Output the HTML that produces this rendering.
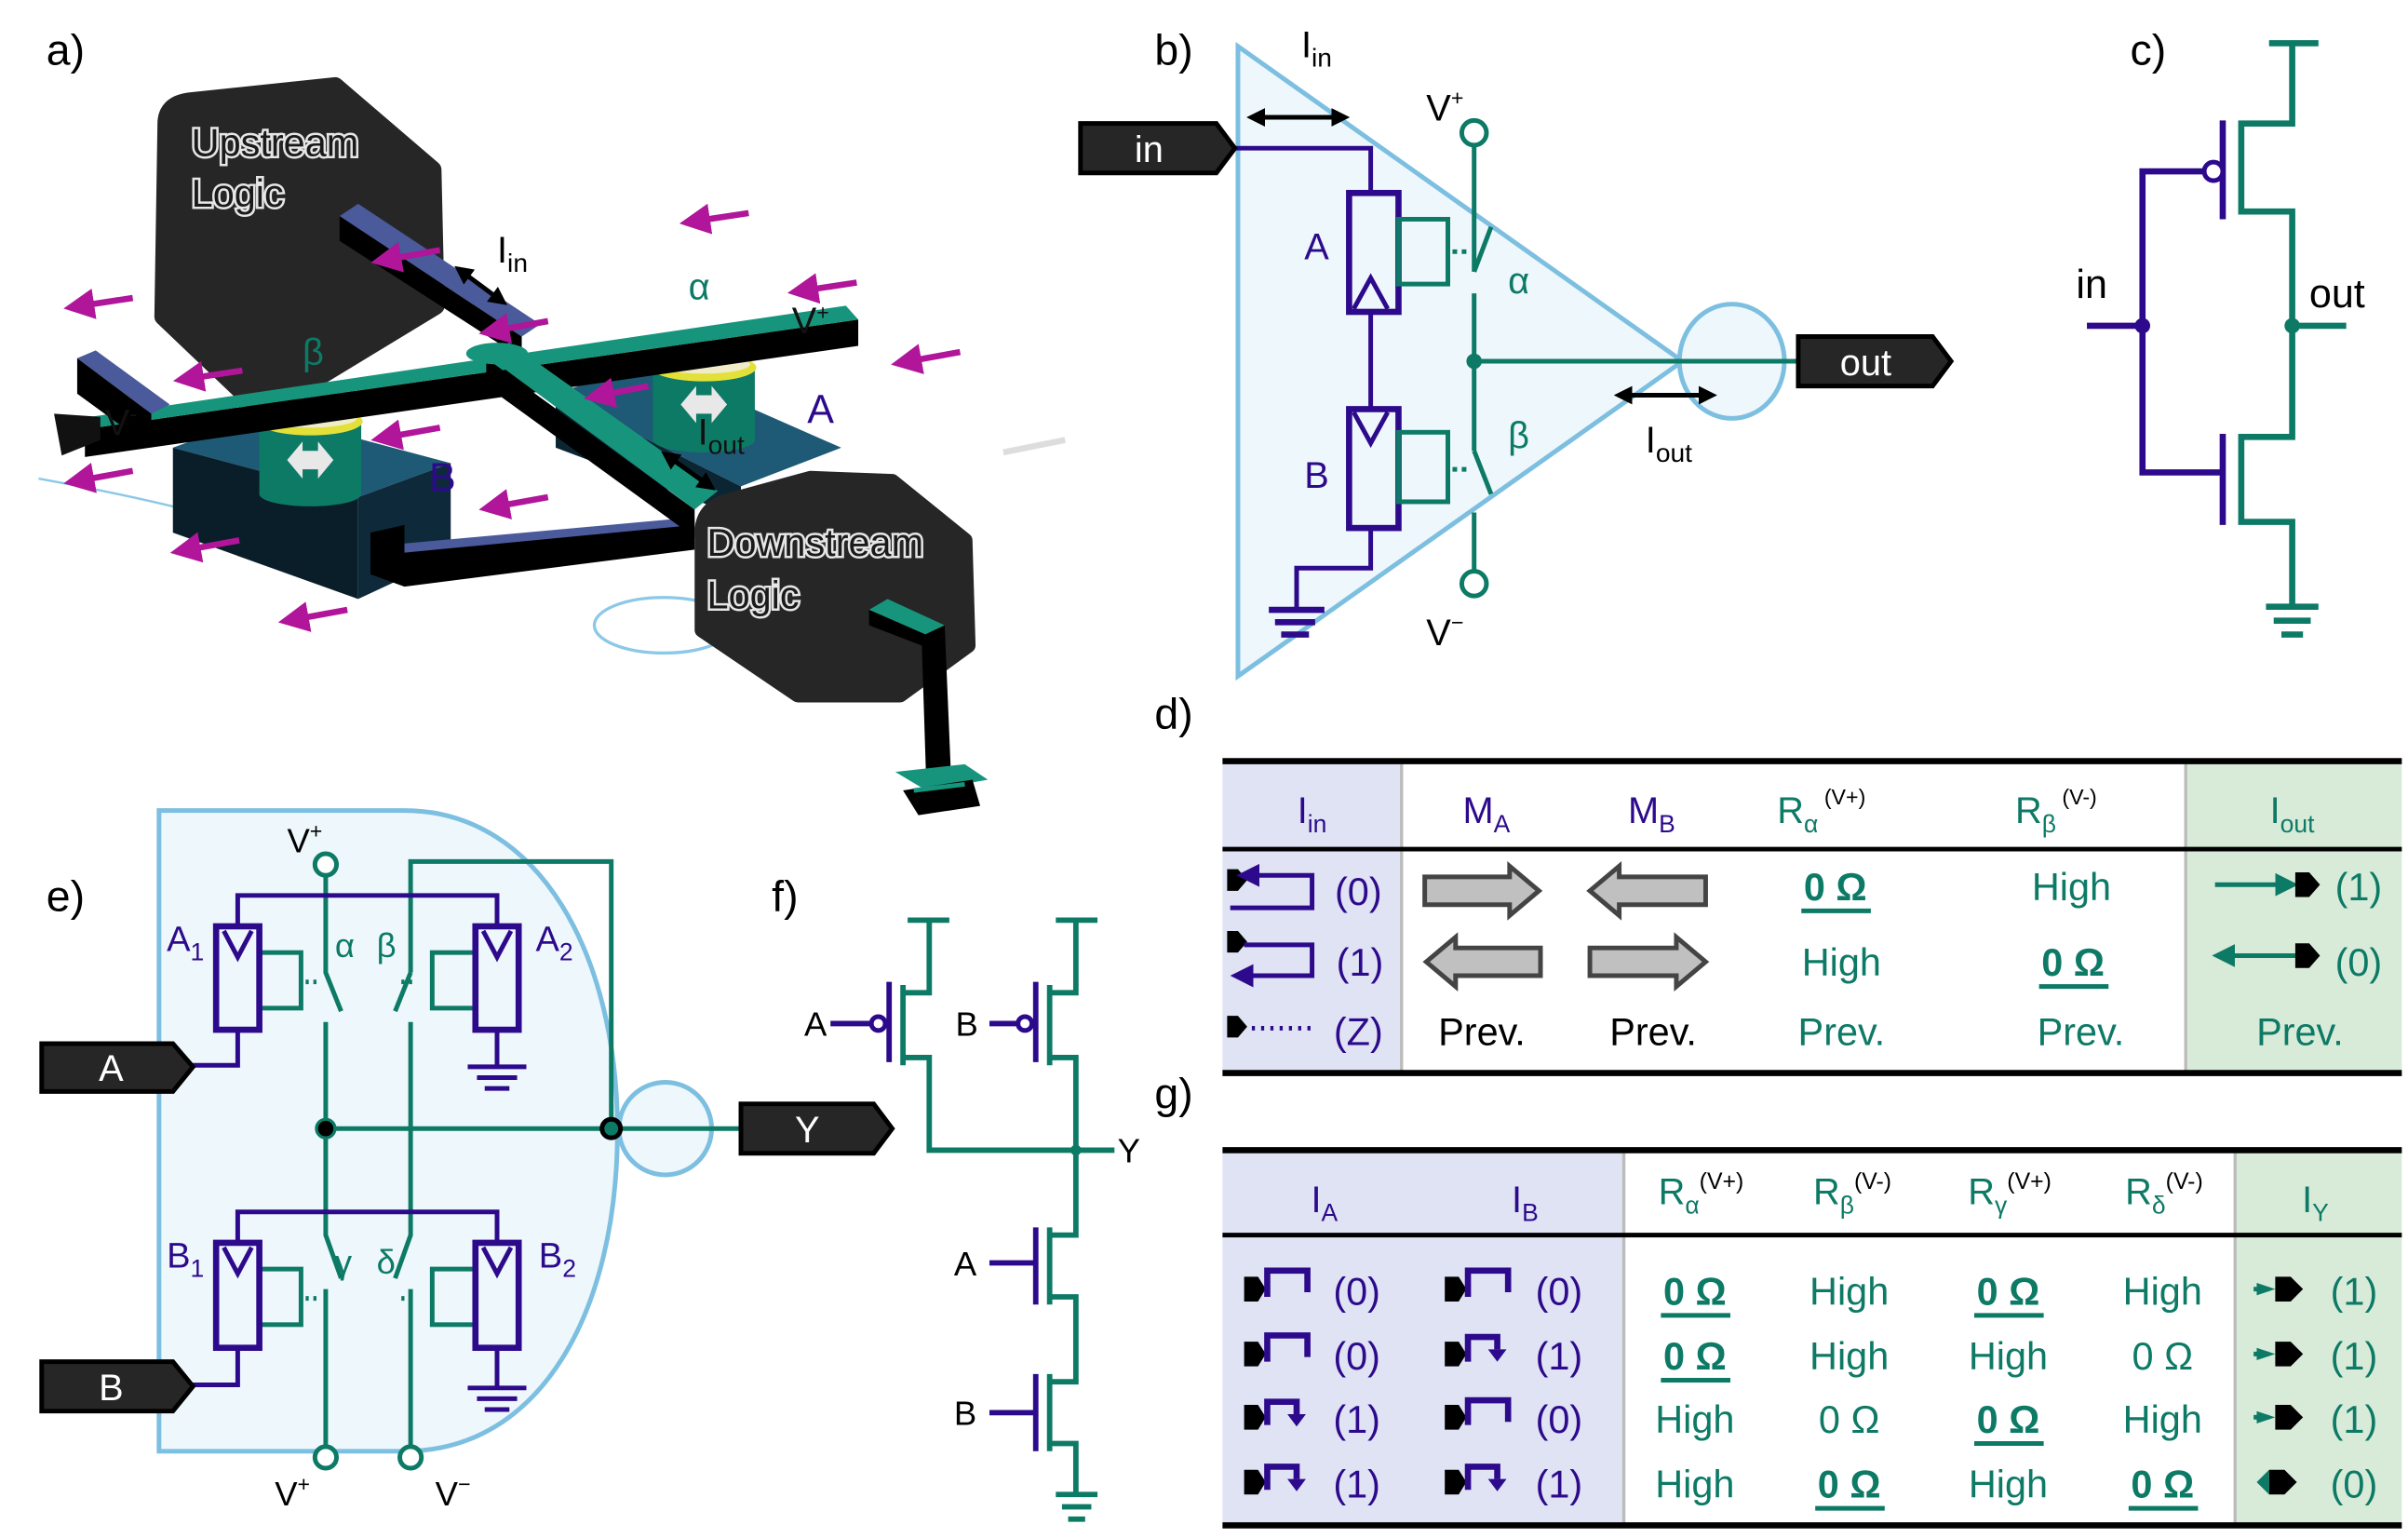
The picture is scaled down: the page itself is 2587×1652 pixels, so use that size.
<!DOCTYPE html>
<html><head><meta charset="utf-8"><style>
html,body{margin:0;padding:0;background:#fff;}
svg{display:block;}
text{font-family:"Liberation Sans",sans-serif;}
</style></head><body>
<svg width="2587" height="1652" viewBox="0 0 1560 996.2" xmlns="http://www.w3.org/2000/svg">
<defs>
<marker id="ah" markerWidth="4" markerHeight="4" refX="2.5" refY="2" orient="auto-start-reverse"><path d="M0,0 L4,2 L0,4 Z" fill="#000"/></marker>
<marker id="am" markerWidth="5" markerHeight="5" refX="2" refY="2.5" orient="auto"><path d="M0,0 L5,2.5 L0,5 Z" fill="#b0159a"/></marker>
<marker id="at" markerWidth="5" markerHeight="5" refX="2" refY="2.5" orient="auto"><path d="M0,0 L5,2.5 L0,5 Z" fill="#0d7a66"/></marker>
<marker id="ap" markerWidth="5" markerHeight="5" refX="2" refY="2.5" orient="auto-start-reverse"><path d="M0,0 L5,2.5 L0,5 Z" fill="#2d0a8c"/></marker>
</defs>

<!-- ============ panel a ============ -->
<text x="30" y="42" font-size="28">a)</text>
<ellipse cx="430" cy="405" rx="45" ry="18" fill="none" stroke="#8cc8e8" stroke-width="2"/>
<path d="M25,310 Q80,320 120,330" fill="none" stroke="#8cc8e8" stroke-width="1.5"/>
<!-- upstream box -->
<path d="M108,80 Q108,68 122,66 L217,56 L280,110 L282,198 L170,266 L106,205 Z" fill="#262626" stroke="#262626" stroke-width="12" stroke-linejoin="round"/>
<text x="124" y="101" font-size="25" fill="#1a1a1a" stroke="#e6e6e6" stroke-width="3" paint-order="stroke">Upstream</text>
<text x="124" y="134" font-size="25" fill="#1a1a1a" stroke="#e6e6e6" stroke-width="3" paint-order="stroke">Logic</text>
<!-- Iin bar -->
<path d="M220,140 L232,132 L350,210 L338,218 Z" fill="#4a5a9a"/>
<path d="M220,140 L338,218 L338,232 L220,156 Z" fill="#000"/>
<!-- blocks -->
<path d="M360,255 L420,235 L545,290 L480,315 Z" fill="#1e5a76"/>
<path d="M360,255 L480,315 L480,335 L360,290 Z" fill="#0c2532"/>
<path d="M112,290 L172,268 L292,300 L232,322 Z" fill="#1e5a76"/>
<path d="M112,290 L232,322 L232,388 L112,345 Z" fill="#0a1e2a"/>
<path d="M232,322 L292,300 L292,360 L232,388 Z" fill="#0e2a3a"/>
<!-- bottom wire -->
<path d="M240,345 L262,340 L262,358 L450,338 L450,356 L262,380 L240,372 Z" fill="#000"/>
<path d="M262,352 L450,335 L450,340 L262,358 Z" fill="#4a5a9a"/>
<!-- cylinders -->
<rect x="168" y="275" width="66" height="45" fill="#0d7a66"/>
<ellipse cx="201" cy="320" rx="33" ry="8" fill="#0d7a66"/>
<ellipse cx="201" cy="273" rx="34" ry="9" fill="#e3e03a"/>
<ellipse cx="201" cy="271" rx="30" ry="6" fill="#f1ecc8"/>
<path d="M186,298 L196,286 L196,292 L206,292 L206,286 L216,298 L206,310 L206,304 L196,304 L196,310 Z" fill="#e8e8e8"/>
<rect x="423" y="240" width="66" height="45" fill="#0d7a66"/>
<ellipse cx="456" cy="285" rx="33" ry="8" fill="#0d7a66"/>
<ellipse cx="456" cy="238" rx="34" ry="9" fill="#e3e03a"/>
<ellipse cx="456" cy="236" rx="30" ry="6" fill="#f1ecc8"/>
<path d="M441,262 L451,250 L451,256 L461,256 L461,250 L471,262 L461,274 L461,268 L451,268 L451,274 Z" fill="#e8e8e8"/>
<!-- main horizontal bar -->
<path d="M55,278 L556,207 L556,224 L55,296 Z" fill="#000"/>
<path d="M45,272 L548,198 L556,207 L55,278 Z" fill="#17957c"/>
<!-- V- stub -->
<path d="M50,232 L62,227 L110,262 L98,268 Z" fill="#4a5a9a"/>
<path d="M50,232 L98,268 L98,290 L50,255 Z" fill="#000"/>
<path d="M35,268 L65,270 L65,285 L40,295 Z" fill="#111"/>
<!-- diagonal output bar -->
<path d="M315,232 L450,330 L450,348 L315,250 Z" fill="#000"/>
<path d="M312,228 L330,222 L465,318 L450,330 Z" fill="#17957c"/>
<ellipse cx="322" cy="229" rx="20" ry="7" fill="#17957c"/>
<!-- downstream box -->
<path d="M455,345 Q455,330 470,325 L525,310 L578,312 L625,350 L627,418 L583,450 L517,450 L455,408 Z" fill="#262626" stroke="#262626" stroke-width="10" stroke-linejoin="round"/>
<text x="458" y="360" font-size="25" fill="#1a1a1a" stroke="#e6e6e6" stroke-width="3" paint-order="stroke">Downstream</text>
<text x="458" y="394" font-size="25" fill="#1a1a1a" stroke="#e6e6e6" stroke-width="3" paint-order="stroke">Logic</text>
<path d="M563,395 L575,388 L612,405 L602,412 Z" fill="#17957c"/>
<path d="M563,395 L602,412 L602,420 L563,405 Z" fill="#000"/>
<path d="M597,412 L612,405 L616,500 L600,505 Z" fill="#000"/>
<path d="M580,500 L625,495 L640,505 L600,512 Z" fill="#17957c"/>
<path d="M585,512 L630,505 L635,522 L595,528 Z" fill="#000"/>
<path d="M592,512 L625,508" stroke="#17957c" stroke-width="3"/>
<!-- magenta arrows -->
<g stroke="#b0159a" stroke-width="4" marker-end="url(#am)">
<line x1="485" y1="138" x2="452" y2="143"/>
<line x1="86" y1="193" x2="53" y2="198"/>
<line x1="555" y1="183" x2="522" y2="188"/>
<line x1="622" y1="228" x2="589" y2="234"/>
<line x1="157" y1="240" x2="124" y2="245"/>
<line x1="285" y1="162" x2="252" y2="168"/>
<line x1="355" y1="208" x2="322" y2="214"/>
<line x1="86" y1="305" x2="53" y2="311"/>
<line x1="155" y1="350" x2="122" y2="356"/>
<line x1="225" y1="395" x2="192" y2="401"/>
<line x1="355" y1="322" x2="322" y2="328"/>
<line x1="285" y1="277" x2="252" y2="283"/>
<line x1="420" y1="250" x2="390" y2="256"/>
</g>
<path d="M650,293 L690,285" stroke="#ddd" stroke-width="4"/>
<!-- double arrows -->
<line x1="298" y1="175" x2="325" y2="195" stroke="#000" stroke-width="3" marker-start="url(#ah)" marker-end="url(#ah)"/>
<line x1="432" y1="295" x2="460" y2="315" stroke="#000" stroke-width="3" marker-start="url(#ah)" marker-end="url(#ah)"/>
<text x="322" y="170" font-size="24">I<tspan font-size="17" dy="6">in</tspan></text>
<text x="446" y="194" font-size="24" fill="#0d7a66">α</text>
<text x="196" y="236" font-size="24" fill="#0d7a66">β</text>
<text x="513" y="216" font-size="24" fill="#111">V<tspan font-size="14" dy="-9">+</tspan></text>
<text x="68" y="282" font-size="24" fill="#111">V<tspan font-size="14" dy="-9">-</tspan></text>
<text x="523" y="274" font-size="26" fill="#2d0a8c">A</text>
<text x="278" y="318" font-size="26" fill="#2d0a8c">B</text>
<text x="452" y="288" font-size="24" fill="#111">I<tspan font-size="17" dy="6">out</tspan></text>

<!-- ============ panel b ============ -->
<text x="748" y="42" font-size="28">b)</text>
<path d="M802,30 L1090,234 L802,438 Z" fill="#eef7fb" stroke="#7dbfe0" stroke-width="3"/>
<ellipse cx="1122" cy="234" rx="34" ry="37" fill="#eef7fb" stroke="#7dbfe0" stroke-width="3"/>
<path d="M800,96 H888 V125 M888,202 V265 M888,342 V368 H840 V395" fill="none" stroke="#2d0a8c" stroke-width="3"/>
<path d="M822,395 H858 M826,403 H852 M830,411 H848" stroke="#2d0a8c" stroke-width="4"/>
<rect x="874" y="125" width="32" height="77" fill="none" stroke="#2d0a8c" stroke-width="4"/>
<path d="M877,200 L888,180 L899,200" fill="none" stroke="#2d0a8c" stroke-width="3"/>
<rect x="874" y="265" width="32" height="77" fill="none" stroke="#2d0a8c" stroke-width="4"/>
<path d="M877,267 L888,287 L899,267" fill="none" stroke="#2d0a8c" stroke-width="3"/>
<rect x="906" y="142" width="32" height="42" fill="none" stroke="#0d7a66" stroke-width="3"/>
<rect x="906" y="280" width="32" height="45" fill="none" stroke="#0d7a66" stroke-width="3"/>
<path d="M941,163 h3 M947,163 h3 M941,304 h3 M947,304 h3" stroke="#0d7a66" stroke-width="3"/>
<path d="M955,94 V176 M955,176 L966,147 M955,190 V292 M955,292 L966,320 M955,332 V370 M955,234 H1165" fill="none" stroke="#0d7a66" stroke-width="3"/>
<circle cx="955" cy="86" r="8" fill="#fff" stroke="#0d7a66" stroke-width="3"/>
<circle cx="955" cy="378" r="8" fill="#fff" stroke="#0d7a66" stroke-width="3"/>
<circle cx="955" cy="234" r="5" fill="#0d7a66"/>
<path d="M700,80 H788 L800,96 L788,112 H700 Z" fill="#262626" stroke="#000" stroke-width="3"/>
<text x="735" y="105" font-size="24" fill="#fff">in</text>
<path d="M1165,218 H1252 L1264,234 L1252,250 H1165 Z" fill="#262626" stroke="#000" stroke-width="3"/>
<text x="1192" y="243" font-size="24" fill="#fff">out</text>
<line x1="812" y1="76" x2="870" y2="76" stroke="#000" stroke-width="3" marker-start="url(#ah)" marker-end="url(#ah)"/>
<line x1="1050" y1="256" x2="1108" y2="256" stroke="#000" stroke-width="3" marker-start="url(#ah)" marker-end="url(#ah)"/>
<text x="843" y="37" font-size="24">I<tspan font-size="17" dy="6">in</tspan></text>
<text x="1066" y="293" font-size="24">I<tspan font-size="17" dy="6">out</tspan></text>
<text x="924" y="78" font-size="24">V<tspan font-size="14" dy="-10">+</tspan></text>
<text x="924" y="418" font-size="24">V<tspan font-size="14" dy="-10">−</tspan></text>
<text x="845" y="168" font-size="24" fill="#2d0a8c">A</text>
<text x="845" y="316" font-size="24" fill="#2d0a8c">B</text>
<text x="977" y="190" font-size="24" fill="#0d7a66">α</text>
<text x="977" y="290" font-size="24" fill="#0d7a66">β</text>

<!-- ============ panel c ============ -->
<text x="1380" y="42" font-size="28">c)</text>
<path d="M1470,28 H1502 M1485,28 V80 H1452 V137 H1485 V283 H1452 V338 H1485 V392 M1468,393 H1502 M1473,402 H1497 M1478,411 H1492 M1485,211 H1520" fill="none" stroke="#0d7a66" stroke-width="4"/>
<path d="M1440,78 V142 M1440,281 V340 M1427,111 H1388 V306 H1440 M1352,211 H1388" fill="none" stroke="#2d0a8c" stroke-width="4"/>
<circle cx="1434" cy="111" r="6" fill="#fff" stroke="#2d0a8c" stroke-width="3"/>
<circle cx="1388" cy="211" r="5" fill="#2d0a8c"/>
<circle cx="1485" cy="211" r="5" fill="#0d7a66"/>
<text x="1345" y="193" font-size="26">in</text>
<text x="1496" y="199" font-size="26">out</text>

<!-- ============ panel d ============ -->
<text x="748" y="472" font-size="28">d)</text>
<rect x="792" y="495" width="116" height="200" fill="#dfe3f3"/>
<rect x="1416" y="495" width="140" height="200" fill="#d8ebd9"/>
<path d="M908,495 V695 M1416,495 V695" stroke="#bbb" stroke-width="2"/>
<path d="M792,493 H1556 M792,695 H1556" stroke="#000" stroke-width="4"/>
<path d="M792,550 H1556" stroke="#000" stroke-width="3"/>
<g font-size="24" text-anchor="middle">
<text x="850" y="533" fill="#2d0a8c">I<tspan font-size="16" dy="6">in</tspan></text>
<text x="963" y="533" fill="#2d0a8c">M<tspan font-size="16" dy="6">A</tspan></text>
<text x="1070" y="533" fill="#2d0a8c">M<tspan font-size="16" dy="6">B</tspan></text>
<text x="1180" y="533" fill="#0d7a66">R<tspan font-size="16" dy="6">α</tspan><tspan font-size="14" dy="-18" fill="#000"> (V+)</tspan></text>
<text x="1332" y="533" fill="#0d7a66">R<tspan font-size="16" dy="6">β</tspan><tspan font-size="14" dy="-18" fill="#000"> (V-)</tspan></text>
<text x="1485" y="533" fill="#0d7a66">I<tspan font-size="16" dy="6">out</tspan></text>
</g>
<path d="M795,563 H802 L808,570 L802,577 H795 Z" fill="#000"/>
<path d="M810,567 H850 V588 H797" fill="none" stroke="#2d0a8c" stroke-width="3" marker-start="url(#ap)"/>
<path d="M795,603 H802 L808,610 L802,617 H795 Z" fill="#000"/>
<path d="M806,612 H850 V632 H806" fill="none" stroke="#2d0a8c" stroke-width="3" marker-end="url(#ap)"/>
<path d="M795,658 H802 L808,665 L802,672 H795 Z" fill="#000"/>
<path d="M811,666 H850" stroke="#2d0a8c" stroke-width="3" stroke-dasharray="2,4"/>
<g font-size="25" fill="#2d0a8c" text-anchor="middle">
<text x="880" y="586">(0)</text><text x="881" y="632">(1)</text><text x="880" y="677">(Z)</text>
</g>
<g fill="#c0c0c0" stroke="#444" stroke-width="3">
<path d="M923,568 H978 V561 L997,577 L978,593 V586 H923 Z"/>
<path d="M1105,568 H1049 V561 L1030,577 L1049,593 V586 H1105 Z"/>
<path d="M998,614 H943 V607 L924,623 L943,639 V632 H998 Z"/>
<path d="M1030,614 H1086 V607 L1105,623 L1086,639 V632 H1030 Z"/>
</g>
<g font-size="25" text-anchor="middle">
<text x="960" y="677">Prev.</text><text x="1071" y="677">Prev.</text>
<text x="1189" y="583" fill="#0d7a66" font-weight="bold">0 Ω</text>
<text x="1342" y="583" fill="#0d7a66">High</text>
<text x="1193" y="632" fill="#0d7a66">High</text>
<text x="1343" y="632" fill="#0d7a66" font-weight="bold">0 Ω</text>
<text x="1193" y="677" fill="#0d7a66">Prev.</text>
<text x="1348" y="677" fill="#0d7a66">Prev.</text>
<text x="1490" y="677" fill="#0d7a66">Prev.</text>
<text x="1528" y="583" fill="#0d7a66">(1)</text>
<text x="1528" y="632" fill="#0d7a66">(0)</text>
</g>
<path d="M1167,590 H1212 M1321,639 H1366" stroke="#0d7a66" stroke-width="3"/>
<line x1="1435" y1="573" x2="1480" y2="573" stroke="#0d7a66" stroke-width="3" marker-end="url(#at)"/>
<path d="M1487,565 H1496 L1503,573 L1496,581 H1487 Z" fill="#000"/>
<line x1="1487" y1="619" x2="1442" y2="619" stroke="#0d7a66" stroke-width="3" marker-end="url(#at)"/>
<path d="M1487,611 H1496 L1503,619 L1496,627 H1487 Z" fill="#000"/>

<!-- ============ panel g ============ -->
<text x="748" y="718" font-size="28">g)</text>
<rect x="792" y="747" width="260" height="241" fill="#dfe3f3"/>
<rect x="1448" y="747" width="108" height="241" fill="#d8ebd9"/>
<path d="M1052,747 V988 M1448,747 V988" stroke="#bbb" stroke-width="2"/>
<path d="M792,745 H1556 M792,988 H1556" stroke="#000" stroke-width="4"/>
<path d="M792,800 H1556" stroke="#000" stroke-width="3"/>
<g font-size="24" text-anchor="middle">
<text x="858" y="785" fill="#2d0a8c">I<tspan font-size="16" dy="6">A</tspan></text>
<text x="988" y="785" fill="#2d0a8c">I<tspan font-size="16" dy="6">B</tspan></text>
<text x="1102" y="780" fill="#0d7a66">R<tspan font-size="16" dy="6">α</tspan><tspan font-size="15" dy="-16" fill="#000">(V+)</tspan></text>
<text x="1200" y="780" fill="#0d7a66">R<tspan font-size="16" dy="6">β</tspan><tspan font-size="15" dy="-16" fill="#000">(V-)</tspan></text>
<text x="1302" y="780" fill="#0d7a66">R<tspan font-size="16" dy="6">γ</tspan><tspan font-size="15" dy="-16" fill="#000">(V+)</tspan></text>
<text x="1402" y="780" fill="#0d7a66">R<tspan font-size="16" dy="6">δ</tspan><tspan font-size="15" dy="-16" fill="#000">(V-)</tspan></text>
<text x="1500" y="785" fill="#0d7a66">I<tspan font-size="16" dy="6">Y</tspan></text>
</g>
<g fill="#000">
<path d="M806,827 H815 L820,835 L815,843 H806 Z"/><path d="M936,827 H945 L950,835 L945,843 H936 Z"/>
<path d="M806,869 H815 L820,877 L815,885 H806 Z"/><path d="M936,869 H945 L950,877 L945,885 H936 Z"/>
<path d="M806,910 H815 L820,918 L815,926 H806 Z"/><path d="M936,910 H945 L950,918 L945,926 H936 Z"/>
<path d="M806,952 H815 L820,960 L815,968 H806 Z"/><path d="M936,952 H945 L950,960 L945,968 H936 Z"/>
</g>
<g fill="none" stroke="#2d0a8c" stroke-width="4">
<path d="M821,840 V823 H847 V837"/><path d="M951,840 V823 H977 V837"/>
<path d="M821,882 V865 H847 V879"/><path d="M951,882 V866 H970 V874"/>
<path d="M821,923 V908 H840 V916"/><path d="M951,923 V907 H977 V921"/>
<path d="M821,965 V950 H840 V958"/><path d="M951,965 V950 H970 V958"/>
</g>
<g fill="#2d0a8c"><path d="M834,916 H846 L840,924Z"/><path d="M834,958 H846 L840,966Z"/><path d="M964,874 H976 L970,882Z"/><path d="M964,958 H976 L970,966Z"/></g>
<g font-size="25" text-anchor="middle" fill="#2d0a8c">
<text x="879" y="845">(0)</text><text x="1010" y="845">(0)</text>
<text x="879" y="887">(0)</text><text x="1010" y="887">(1)</text>
<text x="879" y="928">(1)</text><text x="1010" y="928">(0)</text>
<text x="879" y="970">(1)</text><text x="1010" y="970">(1)</text>
</g>
<g font-size="25" text-anchor="middle" fill="#0d7a66">
<text x="1098" y="845" font-weight="bold">0 Ω</text><text x="1198" y="845">High</text><text x="1301" y="845" font-weight="bold">0 Ω</text><text x="1401" y="845">High</text>
<text x="1098" y="887" font-weight="bold">0 Ω</text><text x="1198" y="887">High</text><text x="1301" y="887">High</text><text x="1401" y="887">0 Ω</text>
<text x="1098" y="928">High</text><text x="1198" y="928">0 Ω</text><text x="1301" y="928" font-weight="bold">0 Ω</text><text x="1401" y="928">High</text>
<text x="1098" y="970">High</text><text x="1198" y="970" font-weight="bold">0 Ω</text><text x="1301" y="970">High</text><text x="1401" y="970" font-weight="bold">0 Ω</text>
<text x="1525" y="845">(1)</text><text x="1525" y="887">(1)</text><text x="1525" y="928">(1)</text><text x="1525" y="970">(0)</text>
</g>
<path d="M1076,852 H1121 M1279,852 H1324 M1076,894 H1121 M1279,935 H1324 M1176,977 H1221 M1379,977 H1424" stroke="#0d7a66" stroke-width="3"/>
<g fill="#000"><path d="M1474,827 H1484 L1492,835 L1484,843 H1474 Z"/><path d="M1474,869 H1484 L1492,877 L1484,885 H1474 Z"/><path d="M1474,910 H1484 L1492,918 L1484,926 H1474 Z"/><path d="M1470,952 H1480 L1488,960 L1480,968 H1470 Z"/></g>
<g fill="#0d7a66"><path d="M1462,831 L1474,835 L1462,839 Z"/><path d="M1462,873 L1474,877 L1462,881 Z"/><path d="M1462,914 L1474,918 L1462,922 Z"/><path d="M1470,952 L1462,960 L1470,968 Z"/></g>
<path d="M1460,835 H1470 M1460,877 H1470 M1460,918 H1470" stroke="#0d7a66" stroke-width="3"/>

<!-- ============ panel e ============ -->
<text x="30" y="590" font-size="28">e)</text>
<path d="M103,525 H262 C350,525 400,620 400,732 C400,850 350,940 262,940 H103 Z" fill="#eef7fb" stroke="#7dbfe0" stroke-width="3"/>
<circle cx="431" cy="731" r="30" fill="#eef7fb" stroke="#7dbfe0" stroke-width="3"/>
<g fill="none" stroke="#0d7a66" stroke-width="3">
<path d="M211,568 V630 L221,655 M211,662 V800 L221,828 M211,835 V936"/>
<path d="M266,630 V558 H396 V731 M266,630 L256,655 M266,662 V800 L256,828 M266,835 V936"/>
<path d="M211,731 H480"/>
<rect x="168" y="617" width="27" height="36"/><rect x="280" y="617" width="28" height="36"/>
<rect x="168" y="822" width="27" height="36"/><rect x="280" y="822" width="28" height="36"/>
<path d="M198,636 h2 M203,636 h2 M260,636 h2 M265,636 h2 M198,841 h2 M203,841 h2 M260,841 h2 M265,841 h2" stroke-width="3"/>
</g>
<circle cx="211" cy="560" r="7" fill="#fff" stroke="#0d7a66" stroke-width="3"/>
<circle cx="211" cy="944" r="7" fill="#fff" stroke="#0d7a66" stroke-width="3"/>
<circle cx="266" cy="944" r="7" fill="#fff" stroke="#0d7a66" stroke-width="3"/>
<circle cx="211" cy="731" r="6" fill="#000" stroke="#0d7a66" stroke-width="2"/>
<circle cx="396" cy="731" r="6" fill="#0d7a66" stroke="#000" stroke-width="3"/>
<g fill="none" stroke="#2d0a8c" stroke-width="3">
<path d="M154,600 V580 H322 V600 M154,667 V690 H125 M322,667 V690"/>
<path d="M154,805 V785 H322 V805 M154,873 V897 H125 M322,873 V898"/>
<rect x="140" y="600" width="28" height="67" stroke-width="4"/><rect x="308" y="600" width="28" height="67" stroke-width="4"/>
<rect x="140" y="805" width="28" height="68" stroke-width="4"/><rect x="308" y="805" width="28" height="68" stroke-width="4"/>
<path d="M145,603 L154,620 L163,603 M313,603 L322,620 L331,603 M145,808 L154,825 L163,808 M313,808 L322,825 L331,808"/>
<path d="M303,691 H341 M309,698 H335 M314,705 H330 M303,899 H341 M309,906 H335 M314,913 H330" stroke-width="3"/>
</g>
<path d="M27,676 H112 L125,691 L112,707 H27 Z" fill="#262626" stroke="#000" stroke-width="3"/>
<text x="72" y="700" font-size="24" fill="#fff" text-anchor="middle">A</text>
<path d="M27,882 H112 L125,898 L112,914 H27 Z" fill="#262626" stroke="#000" stroke-width="3"/>
<text x="72" y="907" font-size="24" fill="#fff" text-anchor="middle">B</text>
<path d="M480,715 H566 L578,731 L566,747 H480 Z" fill="#262626" stroke="#000" stroke-width="3"/>
<text x="523" y="740" font-size="24" fill="#fff" text-anchor="middle">Y</text>
<g font-size="23" fill="#2d0a8c">
<text x="108" y="616">A<tspan font-size="16" dy="6">1</tspan></text>
<text x="347" y="616">A<tspan font-size="16" dy="6">2</tspan></text>
<text x="108" y="821">B<tspan font-size="16" dy="6">1</tspan></text>
<text x="349" y="821">B<tspan font-size="16" dy="6">2</tspan></text>
</g>
<g font-size="22" fill="#0d7a66">
<text x="217" y="620">α</text><text x="244" y="620">β</text><text x="217" y="825">γ</text><text x="244" y="825">δ</text>
</g>
<text x="186" y="552" font-size="22">V<tspan font-size="14" dy="-9">+</tspan></text>
<text x="178" y="975" font-size="22">V<tspan font-size="14" dy="-9">+</tspan></text>
<text x="282" y="975" font-size="22">V<tspan font-size="14" dy="-9">−</tspan></text>

<!-- ============ panel f ============ -->
<text x="500" y="590" font-size="28">f)</text>
<g fill="none" stroke="#0d7a66" stroke-width="3.5">
<path d="M588,596 H615 M602,596 V643 H585 M585,638 V690 M585,685 H602 V745 H697"/>
<path d="M684,596 H711 M697,596 V643 H680 M680,638 V690 M680,685 H697 V800 H680 M680,795 V845 M680,840 H697 V895 H680 M680,890 V940 M680,935 H697 V968 M697,745 H722"/>
<path d="M684,968 H711 M688,976 H707 M692,984 H703"/>
</g>
<circle cx="697" cy="745" r="3.5" fill="#0d7a66"/>
<g fill="none" stroke="#2d0a8c" stroke-width="3.5">
<path d="M576,636 V688 M671,636 V688 M671,795 V845 M671,890 V940"/>
<path d="M538,663 H565 M641,663 H660 M641,818 H671 M641,915 H671"/>
</g>
<circle cx="569" cy="663" r="4.5" fill="#fff" stroke="#2d0a8c" stroke-width="3"/>
<circle cx="664" cy="663" r="4.5" fill="#fff" stroke="#2d0a8c" stroke-width="3"/>
<g font-size="22">
<text x="521" y="671">A</text><text x="619" y="671">B</text><text x="618" y="826">A</text><text x="618" y="923">B</text><text x="724" y="753">Y</text>
</g>
</svg>
</body></html>
